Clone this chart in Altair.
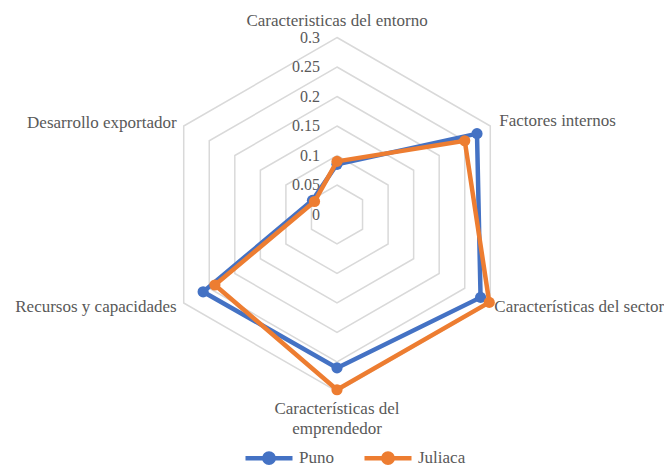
import altair as alt
import pandas as pd

categories = [
    "Caracteristicas del entorno",
    "Factores internos",
    "Características del sector",
    "Características del\nemprendedor",
    "Recursos y capacidades",
    "Desarrollo exportador",
]
series = ["Puno", "Juliaca"]
puno = [0.085, 0.274, 0.281, 0.260, 0.262, 0.048]
juliaca = [0.090, 0.250, 0.298, 0.297, 0.239, 0.044]
colors = ["#4472C4", "#ED7D31"]
ticks = [0, 0.05, 0.1, 0.15, 0.2, 0.25, 0.3]
tick_labels = ["0", "0.05", "0.1", "0.15", "0.2", "0.25", "0.3"]

n = len(categories)
rows = []
for s, vals in zip(series, [puno, juliaca]):
    for i, (c, v) in enumerate(zip(categories, vals)):
        rows.append({"serie": s, "idx": i, "cat": c, "v": v})
df = pd.DataFrame(rows)
grid = pd.DataFrame([{"t": t, "idx": i} for t in ticks[1:] for i in range(n)])
tick_df = pd.DataFrame({"t": ticks, "lab": tick_labels})
cat_df = pd.DataFrame({"idx": list(range(n)), "cat": categories, "t": [ticks[-1]] * n})

W, H = 656, 458
cx, cy, ppu = 329.0, 206.5, 590.0
xs = alt.Scale(domain=[-cx / ppu, (W - cx) / ppu], nice=False, zero=False)
ys = alt.Scale(domain=[-(H - cy) / ppu, cy / ppu], nice=False, zero=False)

ANG = f"datum.idx * 2 * PI / {n}"
X = alt.X("px:Q", scale=xs, axis=None)
Y = alt.Y("py:Q", scale=ys, axis=None)

FONT = "Liberation Serif"
TXT = "#595959"

legend = alt.Legend(
    title=None,
    orient="none",
    legendX=235,
    legendY=424,
    direction="horizontal",
    symbolType="M-1,0L1,0M-0.2,0A0.2,0.2,0,1,1,0.2,0A0.2,0.2,0,1,1,-0.2,0Z",
    symbolSize=2209,
    symbolStrokeWidth=4.5,
    labelFont=FONT,
    labelFontSize=17,
    labelColor=TXT,
    labelOffset=4,
    columnPadding=21,
    padding=0,
)
color = alt.Color("serie:N", scale=alt.Scale(domain=series, range=colors), legend=legend)

grid_layer = (
    alt.Chart(grid)
    .transform_calculate(px=f"datum.t * sin({ANG})", py=f"datum.t * cos({ANG})")
    .mark_line(interpolate="linear-closed", color="#d9d9d9", strokeWidth=1.5)
    .encode(x=X, y=Y, detail="t:Q", order="idx:Q")
)

tick_layer = (
    alt.Chart(tick_df)
    .transform_calculate(px="0", py="datum.t")
    .mark_text(align="right", baseline="middle", dx=-17, font=FONT, fontSize=16, color=TXT)
    .encode(x=X, y=Y, text="lab:N")
)


def series_layers(name):
    base = (
        alt.Chart(df)
        .transform_filter(alt.datum.serie == name)
        .transform_calculate(px=f"datum.v * sin({ANG})", py=f"datum.v * cos({ANG})")
    )
    line = base.mark_line(interpolate="linear-closed", strokeWidth=4.5).encode(
        x=X, y=Y, order="idx:Q", color=color
    )
    pts = base.mark_circle(size=125, opacity=1).encode(x=X, y=Y, color=color)
    return [line, pts]


def cat_layer(idxs, align, baseline, dx, dy):
    return (
        alt.Chart(cat_df)
        .transform_filter(alt.FieldOneOfPredicate(field="idx", oneOf=idxs))
        .transform_calculate(px=f"datum.t * sin({ANG})", py=f"datum.t * cos({ANG})")
        .mark_text(align=align, baseline=baseline, dx=dx, dy=dy, font=FONT, fontSize=17,
                   color=TXT, lineBreak="\n", lineHeight=20)
        .encode(x=X, y=Y, text="cat:N")
    )


cats = [
    cat_layer([0], "center", "middle", 0, -17),
    cat_layer([1], "left", "middle", 9, -5),
    cat_layer([2], "left", "middle", 4, 4),
    cat_layer([3], "center", "top", 0, 9),
    cat_layer([4], "right", "middle", -7, 4),
    cat_layer([5], "right", "middle", -7, -3),
]

chart = (
    alt.layer(grid_layer, tick_layer, *series_layers("Puno"), *series_layers("Juliaca"), *cats)
    .properties(width=W, height=H, padding=0, autosize=alt.AutoSizeParams(type="none"),
                background="white")
    .configure_view(stroke=None)
    .configure_text(font=FONT)
    .configure_legend(labelFont=FONT)
)

chart.save("out.html", embed_options={"renderer": "svg", "actions": False})
